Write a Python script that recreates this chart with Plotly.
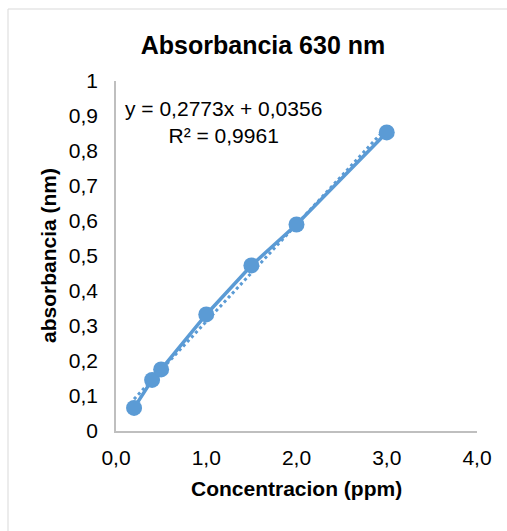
import plotly.graph_objects as go

conc = [0.2, 0.4, 0.5, 1.0, 1.5, 2.0, 3.0]
absorb = [0.066, 0.146, 0.176, 0.333, 0.473, 0.590, 0.853]
slope, intercept = 0.2773, 0.0356
trend_x = [0.2, 3.0]
trend_y = [slope * v + intercept for v in trend_x]

x_ticks = [0, 1, 2, 3, 4]
x_ticktext = ["0,0", "1,0", "2,0", "3,0", "4,0"]
y_ticks = [0, 0.1, 0.2, 0.3, 0.4, 0.5, 0.6, 0.7, 0.8, 0.9, 1.0]
y_ticktext = ["0", "0,1", "0,2", "0,3", "0,4", "0,5", "0,6", "0,7", "0,8", "0,9", "1"]

blue = "#5b9bd5"
font_family = "Liberation Sans, Arial, sans-serif"

fig = go.Figure()
fig.add_trace(go.Scatter(x=trend_x, y=trend_y, mode="lines",
                         line=dict(color=blue, width=3, dash="dot"),
                         showlegend=False, hoverinfo="skip"))
fig.add_trace(go.Scatter(x=conc, y=absorb, mode="lines+markers",
                         line=dict(color=blue, width=3.5),
                         marker=dict(color=blue, size=16),
                         showlegend=False))

fig.update_layout(
    width=507, height=531,
    margin=dict(l=116, r=30, t=81, b=100),
    paper_bgcolor="white", plot_bgcolor="white",
    font=dict(family=font_family, color="#000000"),
    title=dict(text="<b>Absorbancia 630 nm</b>", x=263/507, xanchor="center",
               y=1 - 45/531, yanchor="middle", font=dict(size=25, color="#000000")),
    xaxis=dict(range=[0, 4], tickvals=x_ticks, ticktext=x_ticktext,
               showgrid=False, zeroline=False, showline=True, linecolor="#bfbfbf",
               linewidth=1.5, ticks="outside", ticklen=7, tickcolor="rgba(0,0,0,0)",
               tickfont=dict(size=21, color="#000000")),
    yaxis=dict(range=[0, 1], tickvals=y_ticks, ticktext=y_ticktext,
               showgrid=False, zeroline=False, showline=True, linecolor="#bfbfbf",
               linewidth=1.5, ticks="outside", ticklen=12, tickcolor="rgba(0,0,0,0)",
               tickfont=dict(size=21, color="#000000")),
    annotations=[
        dict(text="<b>Concentracion (ppm)</b>", xref="paper", yref="paper",
             x=0.5, y=(431 - 488) / 350, xanchor="center", yanchor="middle",
             showarrow=False, font=dict(size=21, color="#000000")),
        dict(text="<b>absorbancia (nm)</b>", xref="paper", yref="paper",
             x=(48 - 116) / 361, y=0.5, xanchor="center", yanchor="middle",
             textangle=-90, showarrow=False, font=dict(size=21, color="#000000")),
        dict(text="y = 0,2773x + 0,0356<br>R² = 0,9961", xref="paper", yref="paper",
             x=(223 - 116) / 361, y=(431 - 122) / 350, xanchor="center", yanchor="middle",
             align="center", showarrow=False, font=dict(size=21, color="#000000")),
    ],
    shapes=[dict(type="rect", xref="paper", yref="paper",
                 x0=(8 - 116) / 361, x1=(512 - 116) / 361,
                 y0=(431 - 536) / 350, y1=(431 - 9) / 350,
                 line=dict(color="#d9d9d9", width=1), fillcolor="rgba(0,0,0,0)",
                 layer="below")],
)

fig.write_html("out.html")
